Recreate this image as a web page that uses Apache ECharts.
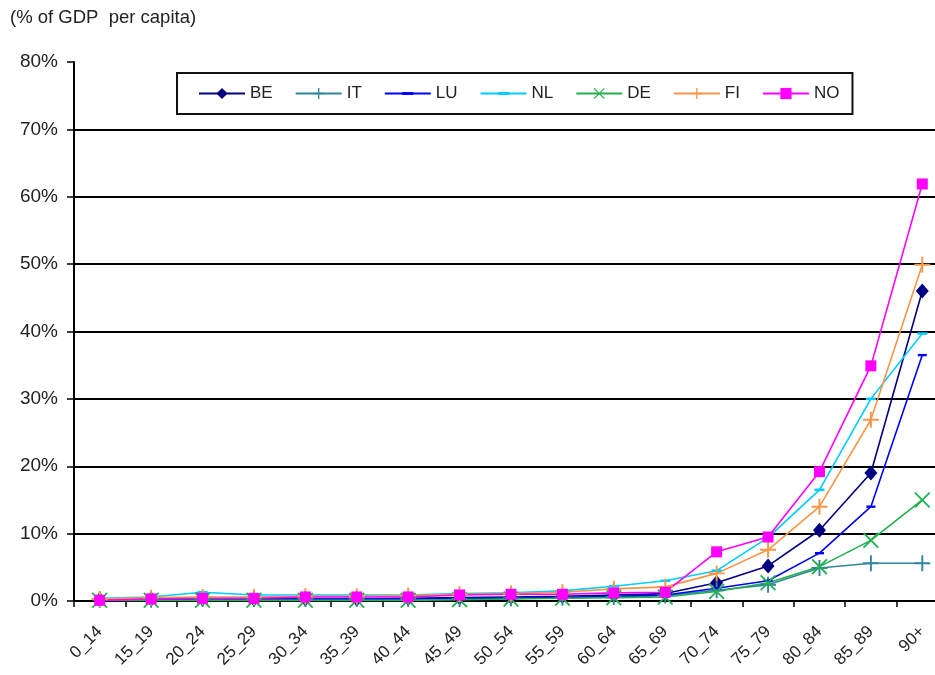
<!DOCTYPE html>
<html><head><meta charset="utf-8">
<script src="https://cdn.jsdelivr.net/npm/echarts@6/dist/echarts.min.js"></script>
<style>html,body{margin:0;padding:0;background:#fff;overflow:hidden}#c{width:935px;height:675px}</style>
</head><body><div id="c"></div>
<script>
const categories = ["0_14","15_19","20_24","25_29","30_34","35_39","40_44","45_49","50_54","55_59","60_64","65_69","70_74","75_79","80_84","85_89","90+"];
const BE = [0.2,0.3,0.3,0.3,0.3,0.3,0.4,0.5,0.6,0.7,0.9,1.1,2.7,5.2,10.5,19.0,46.0];
const IT = [0.2,0.2,0.3,0.3,0.3,0.3,0.3,0.3,0.4,0.5,0.6,0.8,1.6,2.4,4.9,5.6,5.6];
const LU = [0.1,0.2,0.3,0.3,0.3,0.3,0.3,0.4,0.4,0.5,0.7,0.9,1.9,3.0,7.1,14.0,36.5];
const NL = [0.4,0.6,1.3,0.9,0.9,0.9,0.9,1.1,1.2,1.5,2.2,3.0,4.5,9.4,16.5,30.0,39.7];
const DE = [0.1,0.1,0.1,0.1,0.1,0.1,0.1,0.2,0.3,0.4,0.5,0.6,1.4,2.7,5.1,9.0,15.0];
const FI = [0.3,0.5,0.6,0.6,0.7,0.7,0.8,1.0,1.1,1.3,1.8,2.1,4.1,7.6,14.0,26.9,49.9];
const NO = [0.1,0.3,0.4,0.4,0.6,0.6,0.6,0.9,1.0,1.0,1.2,1.3,7.3,9.5,19.2,34.9,61.9];
const yTicks = [0,10,20,30,40,50,60,70,80];

const PLUS = 'path://M0,4.4H10V5.6H0Z M4.4,0H5.6V10H4.4Z';
const CROSS = 'path://M0,0.8L0.8,0L10,9.2L9.2,10Z M9.2,0L10,0.8L0.8,10L0,9.2Z';
const DASH = 'path://M0,0 M10,10 M0,3.7H10V6.3H0Z';
const FONT = '"Liberation Sans", Arial, sans-serif';

function mk(name, data, color, symbol, size) {
  return {
    name, type: 'line', data, symbol, symbolSize: size, showAllSymbol: true,
    lineStyle: { color, width: 1.6 }, itemStyle: { color, borderWidth: 0 },
    emphasis: { disabled: true }, animation: false, z: 3
  };
}
const chart = echarts.init(document.getElementById('c'), null, { renderer: 'canvas' });
chart.setOption({
  animation: false,
  backgroundColor: '#fff',
  textStyle: { fontFamily: FONT },
  graphic: [{ type: 'text', left: 10, top: 8, style: { text: '(% of GDP  per capita)', font: '18.5px ' + FONT, fill: '#222' } }],
  legend: {
    left: 177, top: 73, padding: [12, 13, 12, 21], itemGap: 22, itemWidth: 46, itemHeight: 14,
    borderColor: '#111', borderWidth: 2, borderRadius: 0,
    textStyle: { fontSize: 17, color: '#222', fontFamily: FONT },
    data: ['BE','IT','LU','NL','DE','FI','NO']
  },
  grid: { left: 74, width: 874, top: 62, bottom: 74, containLabel: false, outerBoundsMode: 'none' },
  xAxis: {
    type: 'category', data: categories, boundaryGap: true,
    axisLine: { lineStyle: { color: '#000', width: 2 } },
    axisTick: { show: true, alignWithLabel: false, length: 6, lineStyle: { color: '#000', width: 1.5 } },
    axisLabel: { rotate: 45, fontSize: 17, color: '#222', margin: 28, interval: 0, fontFamily: FONT }
  },
  yAxis: {
    type: 'value', min: 0, max: 80, interval: 10,
    axisLine: { show: true, lineStyle: { color: '#000', width: 2 } },
    axisTick: { show: true, inside: false, length: 7, lineStyle: { color: '#000', width: 1.5 } },
    axisLabel: { formatter: v => v + '%', fontSize: 19, color: '#222', margin: 16, fontFamily: FONT },
    splitLine: { show: true, showMaxLine: false, lineStyle: { color: '#000', width: 2 } }
  },
  series: [
    mk('BE', BE, '#000080', 'diamond', [13, 15]),
    mk('IT', IT, '#31859C', PLUS, 16),
    mk('LU', LU, '#0000FF', DASH, 9),
    mk('NL', NL, '#00CCFF', DASH, 10),
    mk('DE', DE, '#22B04F', CROSS, 16),
    mk('FI', FI, '#F79646', PLUS, 16),
    mk('NO', NO, '#FF00FF', 'rect', [11, 11])
  ]
});
</script></body></html>
